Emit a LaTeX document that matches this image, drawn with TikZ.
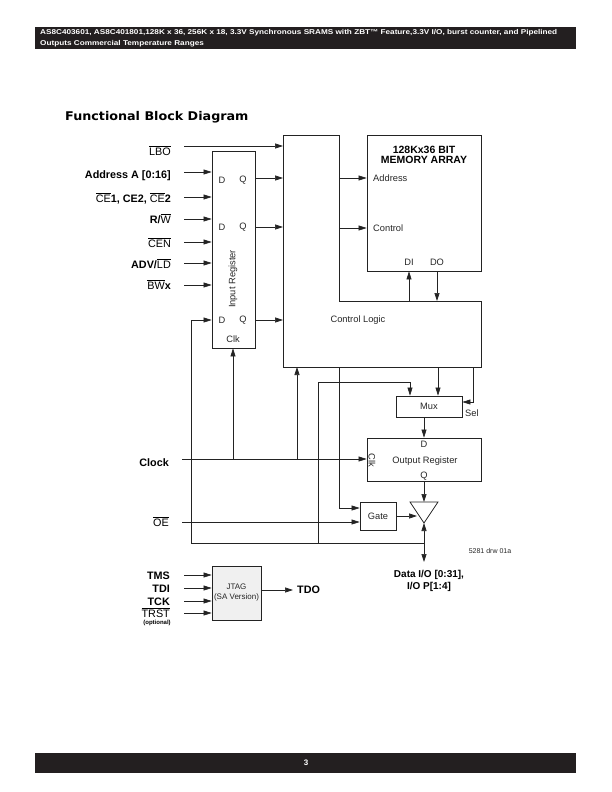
\documentclass[tikz,border=0pt]{standalone}
\usepackage{fontspec}
\setmainfont{Liberation Sans}
\newfontfamily\titlefont{DejaVu Sans}
\usetikzlibrary{arrows.meta}
\definecolor{barcol}{RGB}{35,31,32}
\definecolor{linecol}{RGB}{35,35,35}
\newcommand{\ovl}[1]{$\overline{\mbox{#1}}$}
\newcommand{\lblfont}{\fontsize{10.8}{12}\selectfont}
\newcommand{\smlfont}{\fontsize{9.3}{11}\selectfont}
\begin{document}
\begin{tikzpicture}[x=1pt,y=-1pt,
  wire/.style={draw=linecol, line width=0.7pt},
  arr/.style={wire, -{Triangle[length=8pt,width=5pt]}},
  box/.style={draw=linecol, line width=0.75pt, inner sep=0pt},
  lab/.style={font=\lblfont, anchor=base east, inner sep=0pt},
  txt/.style={font=\smlfont, inner sep=0pt, text=black!85}]
\useasboundingbox (0,0) rectangle (612,792);
% header and footer
\fill[barcol] (35,27) rectangle (576,49);
\node[anchor=base west, text=white, inner sep=0pt] (h1) at (40,35) {\scalebox{1.17}[1]{\bfseries\fontsize{7}{8}\selectfont AS8C403601, AS8C401801,128K x 36, 256K x 18, 3.3V Synchronous SRAMS with ZBT™ Feature,3.3V I/O, burst counter, and Pipelined}};
\node[anchor=base west, text=white, inner sep=0pt] (h2) at (40,46) {\scalebox{1.17}[1]{\bfseries\fontsize{7}{8}\selectfont Outputs Commercial Temperature Ranges}};
\fill[barcol] (35,752.5) rectangle (576,773);
\node[text=white, inner sep=0pt, font=\bfseries\fontsize{8}{9}\selectfont] (pg) at (306,762.5) {3};
% title
\node[anchor=base west, inner sep=0pt] (title) at (65,120.5) {\scalebox{1.06}[1]{\titlefont\bfseries\fontsize{12}{14}\selectfont Functional Block Diagram}};

% boxes
\node[box, minimum width=43pt, minimum height=197pt] (inreg) at (233.5,249.5) {};
\node[box, minimum width=114pt, minimum height=136pt] (mem) at (424,203) {};
\node[box, minimum width=66pt, minimum height=21pt] (mux) at (429,406.5) {};
\node[box, minimum width=114pt, minimum height=43pt] (outreg) at (424,459.5) {};
\node[box, minimum width=36pt, minimum height=28pt] (gate) at (378,516) {};
\node[box, fill=black!6, minimum width=49pt, minimum height=54pt] (jtag) at (236.5,593) {};
\draw[box] (283,135) -- (339,135) -- (339,301) -- (481,301) -- (481,367) -- (283,367) -- cycle;
\coordinate (clW) at (283,250);
\coordinate (clBot) at (300,367);
\coordinate (tl) at (410,502);
\coordinate (tr) at (438,502);
\coordinate (tb) at (424,523);
\draw[box] (tl) -- (tr) -- (tb) -- cycle;

% box texts
\node[txt] (ird1) at (222,180) {D};
\node[txt] (irq1) at (243,180) {Q};
\node[txt] (ird2) at (222,227) {D};
\node[txt] (irq2) at (243,227) {Q};
\node[txt] (ird3) at (222,320) {D};
\node[txt] (irq3) at (243,320) {Q};
\node[txt] (irclk) at (233,339) {Clk};
\node[txt, rotate=90] (irname) at (233,279) {Input Register};
\node[inner sep=0pt, font=\bfseries\fontsize{10.5}{11}\selectfont] (mt1) at (424,150) {128Kx36 BIT};
\node[inner sep=0pt, font=\bfseries\fontsize{10.5}{11}\selectfont] (mt2) at (424,160) {MEMORY ARRAY};
\node[txt, anchor=west] (maddr) at (373,178) {Address};
\node[txt, anchor=west] (mctl) at (373,228) {Control};
\node[txt] (mdi) at (409,262) {DI};
\node[txt] (mdo) at (437,262) {DO};
\node[txt] (cltxt) at (358,320) {Control Logic};
\node[txt] (muxtxt) at (mux) {Mux};
\node[txt, anchor=west] (seltxt) at (465,413) {Sel};
\node[txt] (ord) at (424,444) {D};
\node[txt] (ortxt) at (425,461) {Output Register};
\node[txt, rotate=-90] (orclk) at (372,460) {Clk};
\node[txt] (orq) at (424,476) {Q};
\node[txt] (gatetxt) at (gate) {Gate};
\node[txt, font=\fontsize{7}{8}\selectfont] (drw) at (490,551) {5281 drw 01a};
\node[txt, align=center, font=\fontsize{8}{10}\selectfont] (jtagtxt) at (jtag) {JTAG\\(SA Version)};

% left labels
\node[lab] (lLBO) at (171,155) {\ovl{LBO}};
\node[lab] (lADR) at (171,178) {\bfseries Address A [0:16]};
\node[lab] (lCE) at (171,202) {\ovl{CE}\textbf{1, CE2, }\ovl{CE}\textbf{2}};
\node[lab] (lRW) at (171,223) {\textbf{R/}\ovl{W}};
\node[lab] (lCEN) at (171,247) {\ovl{CEN}};
\node[lab] (lADV) at (171,268) {\textbf{ADV/}\ovl{LD}};
\node[lab] (lBW) at (171,289) {\ovl{BW}\textbf{x}};
\node[lab] (lCLK) at (169,466) {\bfseries Clock};
\node[lab] (lOE) at (169,526) {\ovl{OE}};
\node[lab] (lTMS) at (170,579) {\bfseries TMS};
\node[lab] (lTDI) at (170,592) {\bfseries TDI};
\node[lab] (lTCK) at (170,605) {\bfseries TCK};
\node[lab] (lTRST) at (170,617) {\ovl{TRST}};
\node[inner sep=0pt, font=\bfseries\fontsize{6}{7}\selectfont] (lopt) at (157,623) {(optional)};
\node[anchor=west, inner sep=0pt, font=\bfseries\fontsize{10.8}{12}\selectfont] (lTDO) at (297,590) {TDO};
\node[align=center, inner sep=0pt, font=\bfseries\fontsize{10}{12}\selectfont] (lDIO) at (429,581) {Data I/O [0:31],\\I/O P[1:4]};

% input arrows
\coordinate (iLBO) at (184,146);
\coordinate (iADR) at (184,172);
\coordinate (iCE) at (184,197);
\coordinate (iRW) at (184,219);
\coordinate (iCEN) at (184,242);
\coordinate (iADV) at (184,263);
\coordinate (iBW) at (184,285);
\draw[arr] (iLBO) -- (iLBO -| clW);
\foreach \c in {iADR,iCE,iRW,iCEN,iADV,iBW} \draw[arr] (\c) -- (\c -| inreg.west);
% register outputs
\coordinate (q1) at (255,178);
\coordinate (q2) at (255,227);
\coordinate (q3) at (255,320);
\foreach \c in {q1,q2,q3} \draw[arr] (\c) -- (\c -| clW);
% control logic to memory
\coordinate (ma) at (339,178);
\coordinate (mc) at (339,228);
\draw[arr] (ma) -- (ma -| mem.west);
\draw[arr] (mc) -- (mc -| mem.west);
\coordinate (dip) at (409,301);
\coordinate (dop) at (437,301);
\draw[arr] (dip) -- (dip |- mem.south);
\draw[arr] (dop |- mem.south) -- (dop);
% clock
\coordinate (clk) at (182,459);
\coordinate (clkA) at (233,459);
\coordinate (clkB) at (297,459);
\draw[arr] (clk) -- (clk -| outreg.west);
\draw[arr] (clkA) -- (clkA |- inreg.south);
\draw[arr] (clkB) -- (clkB |- clBot);
% data bus feedback
\coordinate (bus) at (424,543);
\coordinate (dio) at (424,562);
\coordinate (fbx) at (191,320);
\coordinate (bus2) at (318,543);
\coordinate (mxA) at (410,382);
\draw[arr] (bus) -- (tb);
\draw[arr] (bus) -- (dio);
\draw[arr] (bus) -| (fbx) -- (fbx -| inreg.west);
\draw[arr] (bus2) |- (mxA) -- (mxA |- mux.north);
% control logic outputs
\coordinate (cg) at (339,367);
\coordinate (gA) at (339,508);
\draw[arr] (cg) |- (gate.west |- gA);
\coordinate (cm) at (438,367);
\draw[arr] (cm) -- (cm |- mux.north);
\coordinate (cs) at (473,367);
\coordinate (cs2) at (473,402);
\draw[arr] (cs) -- (cs2) -- (cs2 -| mux.east);
% mux, output register, buffer
\coordinate (mo) at (424,417);
\draw[arr] (mo) -- (mo |- outreg.north);
\draw[arr] (outreg.south) -- (outreg.south |- tl);
\coordinate (oe) at (182,522);
\draw[arr] (oe) -- (oe -| gate.west);
\coordinate (gt) at (417,516);
\draw[arr] (gate.east) -- (gt);
% JTAG
\coordinate (t1) at (184,575);
\coordinate (t2) at (184,588);
\coordinate (t3) at (184,601);
\coordinate (t4) at (184,613);
\foreach \c in {t1,t2,t3,t4} \draw[arr] (\c) -- (\c -| jtag.west);
\coordinate (tdo) at (293,590);
\draw[arr] (jtag.east |- tdo) -- (tdo);
\end{tikzpicture}
\end{document}
